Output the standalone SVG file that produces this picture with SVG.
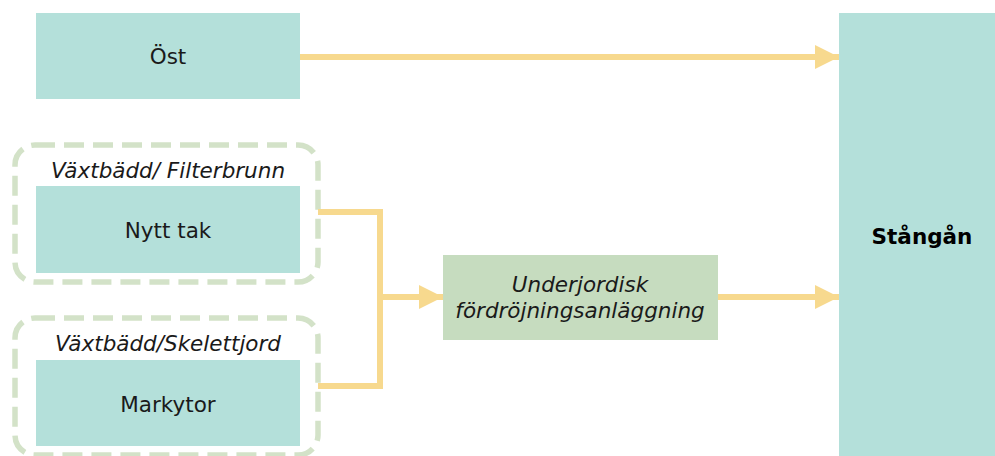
<svg xmlns="http://www.w3.org/2000/svg" width="995" height="456" viewBox="0 0 995 456">
<defs>
<style>
.box{fill:#b4e0da}
.sage{fill:#c6dcbf}
.grp{fill:none;stroke:#d3e2c8;stroke-width:5.5;stroke-dasharray:20 9}
.t{font-family:"DejaVu Sans",Verdana,sans-serif;font-size:21.5px;fill:#1a1a1a;text-anchor:middle}
.i{font-style:italic}
.b{font-weight:bold;fill:#000}
.c{fill:none;stroke:#f7d98e;stroke-width:6}
</style>
<marker id="ah" markerUnits="userSpaceOnUse" markerWidth="26" markerHeight="26" refX="24" refY="12" orient="auto">
<path d="M0,0 L24,12 L0,24 Z" fill="#f7d98e"/>
</marker>
</defs>
<rect width="995" height="456" fill="#ffffff"/>
<g id="ost"><rect class="box" x="36" y="13" width="264" height="86"/><text class="t" x="168" y="64">Öst</text></g>
<g id="stangan"><rect class="box" x="839" y="13" width="170" height="450"/><text class="t b" x="922" y="244">Stångån</text></g>
<g id="grp1"><rect class="grp" x="15" y="145" width="303" height="137" rx="20"/><text class="t i" x="168" y="178">Växtbädd/ Filterbrunn</text></g>
<g id="nytttak"><rect class="box" x="36" y="186" width="264" height="87"/><text class="t" x="168" y="238">Nytt tak</text></g>
<g id="grp2"><rect class="grp" x="15" y="318" width="303" height="137" rx="20"/><text class="t i" x="168" y="351">Växtbädd/Skelettjord</text></g>
<g id="markytor"><rect class="box" x="36" y="360" width="264" height="86"/><text class="t" x="168" y="412">Markytor</text></g>
<g id="underjordisk"><rect class="sage" x="443" y="255" width="275" height="85"/><text class="t i" x="580" y="292">Underjordisk</text><text class="t i" x="580" y="318">fördröjningsanläggning</text></g>
<g id="connectors">
<path class="c" d="M300,57 H839" marker-end="url(#ah)"/>
<path class="c" d="M318,212 H380 V386 H318"/>
<path class="c" d="M380,297 H443" marker-end="url(#ah)"/>
<path class="c" d="M718,297 H839" marker-end="url(#ah)"/>
</g>
</svg>
